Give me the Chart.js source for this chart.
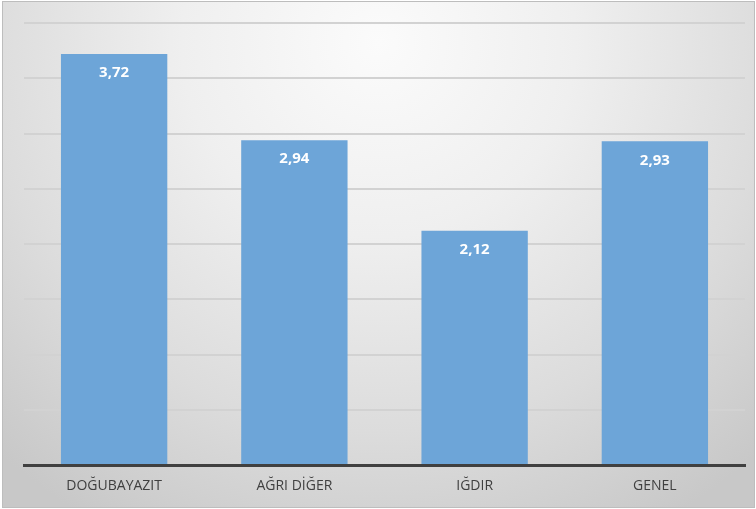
<!DOCTYPE html>
<html>
<head>
<meta charset="utf-8">
<script src="https://cdn.jsdelivr.net/npm/chart.js@4"></script>
<style>
    html, body { margin: 0; padding: 0; background: #ffffff; }
    .frame {
        position: absolute;
        left: 2px; top: 1px;
        width: 751px; height: 505px;
        border: 1px solid #bdbdbd;
        background: radial-gradient(ellipse 75% 110% at 50% 8%, #fbfbfb 0%, #efefef 35%, #dcdcdc 70%, #c8c8c8 100%);
    }
    #barChart { display: block; }
</style>
</head>
<body>
<div class="frame">
    <canvas id="barChart" width="751" height="505"></canvas>
</div>
<script>
const categories = ['DOĞUBAYAZIT', 'AĞRI DİĞER', 'IĞDIR', 'GENEL'];
const values = [3.72, 2.94, 2.12, 2.93];
const yMin = 0;
const yMax = 4;
const yStep = 0.5;

// white value labels inside the top of each bar
const valueLabels = {
    id: 'valueLabels',
    afterDatasetsDraw(chart) {
        const ctx = chart.ctx;
        const meta = chart.getDatasetMeta(0);
        ctx.save();
        ctx.fillStyle = '#ffffff';
        ctx.font = 'bold 15px "Open Sans", sans-serif';
        ctx.textAlign = 'center';
        ctx.textBaseline = 'middle';
        meta.data.forEach((bar, i) => {
            const text = values[i].toFixed(2).replace('.', ',');
            ctx.fillText(text, bar.x, bar.y + 19);
        });
        ctx.restore();
    }
};

new Chart(document.getElementById('barChart'), {
    type: 'bar',
    data: {
        labels: categories,
        datasets: [{
            data: values,
            backgroundColor: '#6da5d8',
            borderWidth: 0,
            barPercentage: 0.59,
            categoryPercentage: 1
        }]
    },
    options: {
        responsive: false,
        animation: false,
        layout: {
            padding: { left: 21, right: 9, top: 21, bottom: 0 }
        },
        plugins: {
            legend: { display: false },
            tooltip: { enabled: false }
        },
        scales: {
            x: {
                grid: { display: false, drawTicks: false },
                border: { display: true, color: '#404040', width: 3 },
                ticks: {
                    color: '#404040',
                    padding: 14,
                    font: { family: '"Open Sans", sans-serif', size: 14, lineHeight: 1 }
                }
            },
            y: {
                min: yMin,
                max: yMax,
                ticks: { display: false, stepSize: yStep },
                border: { display: false },
                grid: { color: '#d2d2d2', lineWidth: 2, drawTicks: false }
            }
        }
    },
    plugins: [valueLabels]
});
</script>
</body>
</html>
